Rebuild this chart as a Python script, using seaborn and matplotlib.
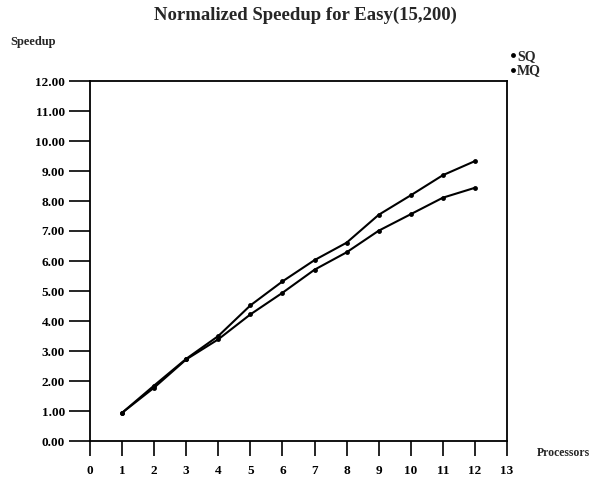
import matplotlib
matplotlib.use("Agg")
import matplotlib.pyplot as plt
import seaborn as sns
import pandas as pd

processors = [1, 2, 3, 4, 5, 6, 7, 8, 9, 10, 11, 12]
sq_speedup = [0.94, 1.85, 2.74, 3.50, 4.52, 5.32, 6.03, 6.61, 7.54, 8.19, 8.86, 9.33]
mq_speedup = [0.94, 1.78, 2.72, 3.39, 4.22, 4.94, 5.71, 6.29, 7.01, 7.56, 8.11, 8.44]
series_names = ["SQ", "MQ"]
x_ticks = list(range(0, 14))
y_ticks = [0, 1, 2, 3, 4, 5, 6, 7, 8, 9, 10, 11, 12]

df = pd.DataFrame({
    "Processors": processors * 2,
    "Speedup": sq_speedup + mq_speedup,
    "series": [series_names[0]] * len(processors) + [series_names[1]] * len(processors),
})

sns.set_style("ticks")
plt.rcParams["font.family"] = ["Liberation Serif", "DejaVu Serif"]

fig = plt.figure(figsize=(5.93, 4.83), dpi=100)
ax = fig.add_axes([90 / 593, 1 - 441 / 483, (507 - 90) / 593, (441 - 81) / 483])

sns.lineplot(data=df, x="Processors", y="Speedup", hue="series",
             palette={"SQ": "black", "MQ": "black"}, marker="o",
             markersize=3.5, markeredgewidth=0, linewidth=1.5, ax=ax,
             legend=True)

ax.set_xlim(0, 13)
ax.set_ylim(0, 12)
ax.set_xticks(x_ticks)
ax.set_xticklabels([str(t) for t in x_ticks], fontsize=9.5, fontweight="bold")
ax.set_yticks(y_ticks)
ax.set_yticklabels([f"{t:.2f}" for t in y_ticks], fontsize=9.5, fontweight="bold")
ax.tick_params(axis="x", direction="out", length=11, width=1.2, pad=6, colors="black")
ax.tick_params(axis="y", direction="out", length=15, width=1.2, pad=3, colors="black")
for s in ax.spines.values():
    s.set_linewidth(1.3)
    s.set_color("black")
ax.set_xlabel("")
ax.set_ylabel("")

fig.text(10 / 593, 1 - 42 / 483, "Speedup", fontsize=9, fontweight="bold",
         ha="left", va="center")
fig.text(537 / 593, 1 - 453 / 483, "Processors", fontsize=8.5, fontweight="bold",
         ha="left", va="center")
fig.text(305 / 593, 1 - 15 / 483, "Normalized Speedup for Easy(15,200)",
         fontsize=13.5, fontweight="bold", ha="center", va="center")

leg = ax.legend(loc="upper left", bbox_to_anchor=(510 / 593, 1 - 50 / 483),
                bbox_transform=fig.transFigure, frameon=False, fontsize=10,
                handlelength=0.4, handletextpad=0.1, labelspacing=0.1,
                borderaxespad=0, borderpad=0)
for t in leg.get_texts():
    t.set_fontweight("bold")
for h in leg.get_lines():
    h.set_linewidth(0)

fig.savefig("out.png", dpi=100)
